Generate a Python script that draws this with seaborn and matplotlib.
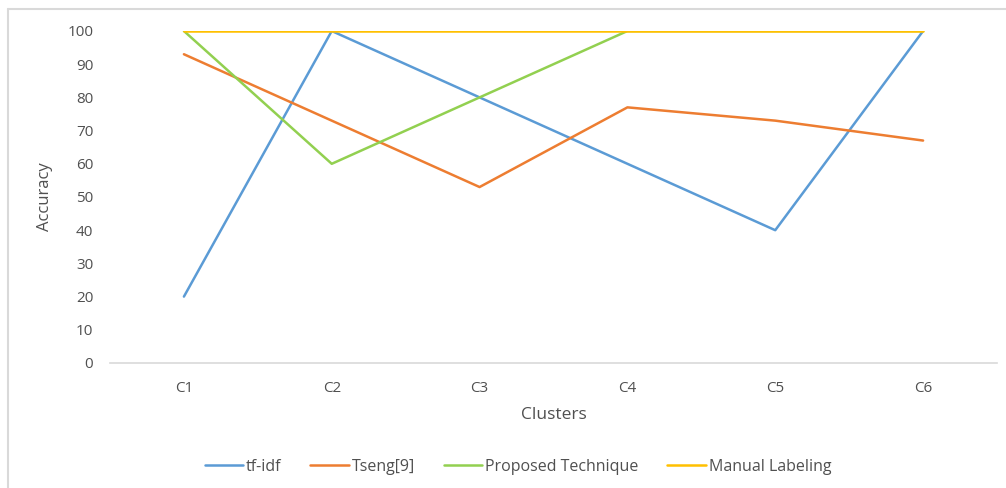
import matplotlib
matplotlib.use("Agg")
import matplotlib.pyplot as plt
from matplotlib.lines import Line2D
import pandas as pd
import seaborn as sns

clusters = ["C1", "C2", "C3", "C4", "C5", "C6"]
tfidf = [20, 100, 80, 60, 40, 100]
tseng = [93, 73, 53, 77, 73, 67]
proposed = [100, 60, 80, 100, 100, 100]
manual = [100, 100, 100, 100, 100, 100]
series_names = ["tf-idf", "Tseng[9]", "Proposed Technique", "Manual Labeling"]
y_ticks = list(range(0, 101, 10))

palette = ["#5B9BD5", "#ED7D31", "#92D050", "#FFC000"]

rows = []
for name, vals in zip(series_names, [tfidf, tseng, proposed, manual]):
    for i, (c, v) in enumerate(zip(clusters, vals)):
        rows.append({"Clusters": c, "pos": i, "Accuracy": v, "series": name})
df = pd.DataFrame(rows)

sns.set_theme(style="white")
plt.rcParams["font.family"] = ["Open Sans", "DejaVu Sans"]
text_color = "#505050"

fig = plt.figure(figsize=(10.06, 4.88), dpi=100)
ax = fig.add_axes([110 / 1006, 1 - 363 / 488, (997 - 110) / 1006, (363 - 31) / 488])

sns.lineplot(data=df, x="pos", y="Accuracy", hue="series", hue_order=series_names,
             palette=palette, linewidth=1.8, ax=ax, legend=False, sort=False)

ax.set_xlim(-0.5, len(clusters) - 0.5)
ax.set_ylim(0, 100)
ax.set_xticks(range(len(clusters)))
ax.set_xticklabels(clusters)
ax.set_yticks(y_ticks)
ax.tick_params(axis="both", length=0, labelsize=11, colors=text_color)
ax.tick_params(axis="x", pad=13)
ax.tick_params(axis="y", pad=12)
for side in ["top", "right", "left"]:
    ax.spines[side].set_visible(False)
ax.spines["bottom"].set_color("#D9D9D9")
ax.spines["bottom"].set_linewidth(1.2)
ax.set_xlabel("Clusters", fontsize=12.5, color=text_color, labelpad=8)
ax.set_ylabel("Accuracy", fontsize=12, color=text_color, labelpad=10)

handles = [Line2D([0], [0], color=c, lw=1.8) for c in palette]
fig.legend(handles, series_names, loc="center", bbox_to_anchor=(518 / 1006, 1 - 467 / 488),
           ncol=4, frameon=False, fontsize=11.5, labelcolor=text_color,
           handlelength=2.4, handletextpad=0.2, columnspacing=1.8)

# chart area border
border = "#D9D9D9"
fig.add_artist(Line2D([8 / 1006, 8 / 1006], [0, 1 - 9 / 488], transform=fig.transFigure,
                      color=border, lw=1.5))
fig.add_artist(Line2D([8 / 1006, 1], [1 - 9 / 488, 1 - 9 / 488], transform=fig.transFigure,
                      color=border, lw=1.5))

fig.savefig("out.png", dpi=100, facecolor="white")
